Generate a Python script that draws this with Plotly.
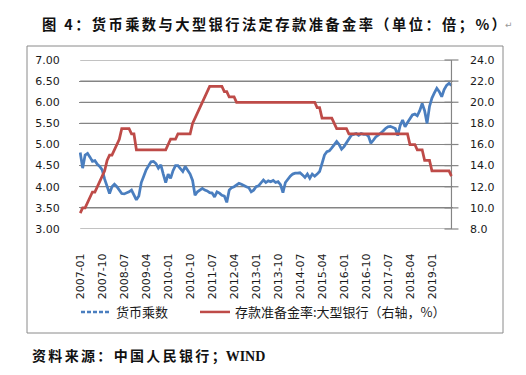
import pandas as pd
import plotly.graph_objects as go

# ---- data ----
months = [p.strftime("%Y-%m") for p in pd.period_range("2007-01", "2019-09", freq="M")]

money_multiplier = [
    4.81, 4.44, 4.75, 4.79, 4.70, 4.60, 4.62, 4.53, 4.48, 4.40, 4.18, 3.98,   # 2007
    3.84, 4.00, 4.06, 4.00, 3.92, 3.84, 3.83, 3.85, 3.88, 3.92, 3.80, 3.69,   # 2008
    3.78, 4.10, 4.25, 4.40, 4.50, 4.59, 4.60, 4.55, 4.44, 4.52, 4.30, 4.10,   # 2009
    4.30, 4.20, 4.38, 4.50, 4.50, 4.42, 4.36, 4.48, 4.40, 4.30, 4.15, 3.80,   # 2010
    3.88, 3.92, 3.96, 3.92, 3.90, 3.86, 3.85, 3.76, 3.88, 3.85, 3.80, 3.78,   # 2011
    3.63, 3.92, 3.98, 4.00, 4.05, 4.08, 4.06, 4.02, 4.00, 3.98, 3.88, 3.92,   # 2012
    4.00, 4.02, 4.10, 4.16, 4.10, 4.14, 4.12, 4.15, 4.10, 4.12, 4.05, 3.86,   # 2013
    4.10, 4.18, 4.25, 4.30, 4.32, 4.32, 4.33, 4.28, 4.22, 4.30, 4.20, 4.30,   # 2014
    4.25, 4.30, 4.36, 4.55, 4.75, 4.83, 4.85, 4.92, 4.99, 5.07, 5.00, 4.89,   # 2015
    4.95, 5.05, 5.15, 5.22, 5.24, 5.26, 5.22, 5.26, 5.24, 5.24, 5.20, 5.03,   # 2016
    5.10, 5.18, 5.22, 5.26, 5.32, 5.38, 5.42, 5.43, 5.40, 5.38, 5.21, 5.45,   # 2017
    5.58, 5.42, 5.52, 5.60, 5.70, 5.72, 5.68, 5.80, 5.97, 5.80, 5.50, 5.90,   # 2018
    6.10, 6.22, 6.33, 6.25, 6.13, 6.30, 6.40, 6.45, 6.40,                     # 2019
]

reserve_ratio = [
    9.5, 10.0, 10.0, 10.5, 11.0, 11.5, 11.5, 12.0, 12.5, 13.0, 13.5, 14.5,     # 2007
    15.0, 15.0, 15.5, 16.0, 16.5, 17.5, 17.5, 17.5, 17.5, 17.0, 17.0, 15.5,    # 2008
    15.5, 15.5, 15.5, 15.5, 15.5, 15.5, 15.5, 15.5, 15.5, 15.5, 15.5, 15.5,    # 2009
    16.0, 16.5, 16.5, 16.5, 17.0, 17.0, 17.0, 17.0, 17.0, 17.0, 18.0, 18.5,    # 2010
    19.0, 19.5, 20.0, 20.5, 21.0, 21.5, 21.5, 21.5, 21.5, 21.5, 21.5, 21.0,    # 2011
    21.0, 20.5, 20.5, 20.5, 20.0, 20.0, 20.0, 20.0, 20.0, 20.0, 20.0, 20.0,    # 2012
    20.0, 20.0, 20.0, 20.0, 20.0, 20.0, 20.0, 20.0, 20.0, 20.0, 20.0, 20.0,    # 2013
    20.0, 20.0, 20.0, 20.0, 20.0, 20.0, 20.0, 20.0, 20.0, 20.0, 20.0, 20.0,    # 2014
    20.0, 19.5, 19.5, 18.5, 18.5, 18.5, 18.5, 18.5, 18.0, 17.5, 17.5, 17.5,    # 2015
    17.5, 17.5, 17.0, 17.0, 17.0, 17.0, 17.0, 17.0, 17.0, 17.0, 17.0, 17.0,    # 2016
    17.0, 17.0, 17.0, 17.0, 17.0, 17.0, 17.0, 17.0, 17.0, 17.0, 17.0, 17.0,    # 2017
    17.0, 17.0, 17.0, 16.0, 16.0, 16.0, 15.5, 15.5, 15.5, 14.5, 14.5, 14.5,    # 2018
    13.5, 13.5, 13.5, 13.5, 13.5, 13.5, 13.5, 13.5, 13.0,                      # 2019
]

tick_labels = months[::9]

left_ticks = [3.0, 3.5, 4.0, 4.5, 5.0, 5.5, 6.0, 6.5, 7.0]
right_ticks = [8, 10, 12, 14, 16, 18, 20, 22, 24]

name_mm = "货币乘数"
name_rr = "存款准备金率:大型银行（右轴，%）"
title_text = "图 4：货币乘数与大型银行法定存款准备金率（单位：倍；%）"
source_cn = "资料来源：中国人民银行；"
source_en = "WIND"

# ---- style ----
OFF = 8                      # page body margin
W, H = 526 - OFF, 375 - OFF  # figure size inside the window
BLUE = "#4A7EBF"
RED = "#BE4B48"
GRID = "#858585"
TXT = "#1a1a1a"
TICKFONT = dict(family="DejaVu Sans", size=11, color=TXT)
CJK = "Noto Sans CJK SC"
CLEAR = "rgba(0,0,0,0)"


def px(x):
    return (x - OFF) / W


def py(y):
    return (H - (y - OFF)) / H


def spaced(s):
    return "\u2006".join(list(s))


PLOT_L, PLOT_R, PLOT_T, PLOT_B = 79, 452.7, 60, 229

fig = go.Figure()

# ---- grid lines, right axis line and its tick marks (as plain traces) ----
for v in left_ticks:
    fig.add_trace(go.Scatter(
        x=[months[0], months[-1]], y=[v, v], mode="lines", yaxis="y",
        line=dict(color=GRID, width=1.2), showlegend=False, hoverinfo="skip",
    ))
fig.add_trace(go.Scatter(
    x=[months[-1], months[-1]], y=[right_ticks[0], right_ticks[-1]],
    mode="lines", yaxis="y2", line=dict(color=GRID, width=1.2),
    showlegend=False, hoverinfo="skip",
))
fig.add_trace(go.Scatter(
    x=[months[-1]] * len(right_ticks), y=right_ticks, mode="markers",
    yaxis="y2", cliponaxis=False,
    marker=dict(symbol="line-ew", size=10, color=GRID,
                line=dict(color=GRID, width=1.2)),
    showlegend=False, hoverinfo="skip",
))

# ---- data series ----
fig.add_trace(go.Scatter(
    x=months, y=money_multiplier, mode="lines", name=name_mm,
    line=dict(color=BLUE, width=2.75), showlegend=False, yaxis="y",
))
fig.add_trace(go.Scatter(
    x=months, y=reserve_ratio, mode="lines", name=name_rr,
    line=dict(color=RED, width=2.75), showlegend=False, yaxis="y2",
))
# legend entries
fig.add_trace(go.Scatter(
    x=[None], y=[None], mode="lines", name=name_mm,
    line=dict(color=BLUE, width=2.5, dash="4px,2px"), legend="legend",
))
fig.add_trace(go.Scatter(
    x=[None], y=[None], mode="lines", name=name_rr,
    line=dict(color=RED, width=2.5), legend="legend2", yaxis="y2",
))

fig.update_layout(
    width=W, height=H,
    margin=dict(l=0, r=0, t=0, b=0, autoexpand=False),
    paper_bgcolor="white", plot_bgcolor=CLEAR,
    xaxis=dict(
        domain=[px(PLOT_L), px(PLOT_R)],
        type="category",
        categoryorder="array", categoryarray=months,
        range=[-0.5, len(months) - 0.5],
        tickmode="array", tickvals=tick_labels, ticktext=tick_labels,
        tickangle=-90, tickfont=TICKFONT,
        showgrid=False, showline=False,
        ticks="outside", ticklen=19, tickcolor=CLEAR,
        zeroline=False, automargin=False,
    ),
    yaxis=dict(
        domain=[py(PLOT_B), py(PLOT_T)],
        range=[3, 7], tickmode="array", tickvals=left_ticks,
        ticktext=[f"{v:.2f}" for v in left_ticks], tickfont=TICKFONT,
        showgrid=True, gridcolor=GRID, gridwidth=1,
        showline=False, zeroline=False,
        ticks="outside", ticklen=16, tickcolor=CLEAR,
        automargin=False,
    ),
    yaxis2=dict(
        overlaying="y", side="right", anchor="x",
        range=[8, 24], tickmode="array", tickvals=right_ticks,
        ticktext=[f"{v:.1f}" for v in right_ticks], tickfont=TICKFONT,
        showgrid=False, showline=False,
        ticks="outside", ticklen=14, tickcolor=CLEAR,
        zeroline=False, automargin=False,
    ),
    legend=dict(
        x=px(76), y=py(312), xanchor="left", yanchor="middle",
        orientation="h", bgcolor=CLEAR, borderwidth=0,
        font=dict(family=CJK, size=13, color=TXT),
    ),
    legend2=dict(
        x=px(195), y=py(312), xanchor="left", yanchor="middle",
        orientation="h", bgcolor=CLEAR, borderwidth=0,
        font=dict(family=CJK, size=13, color=TXT),
    ),
    shapes=[
        dict(type="rect", xref="paper", yref="paper",
             x0=px(27), x1=px(503), y0=py(333), y1=py(46),
             line=dict(color="#8a8a8a", width=1), fillcolor=CLEAR),
    ],
    annotations=[
        dict(text="<b>" + spaced(title_text) + "</b>", xref="paper", yref="paper",
             x=px(40), y=py(24), xanchor="left", yanchor="middle",
             showarrow=False, font=dict(family=CJK, size=14.3, color="#111")),
        dict(text="↵", xref="paper", yref="paper",
             x=px(503), y=py(25), xanchor="left", yanchor="middle",
             showarrow=False, font=dict(family="DejaVu Sans", size=9, color="#999")),
        dict(text="<b>" + spaced(source_cn)
             + "<span style='font-family:Liberation Serif'>" + source_en + "</span></b>",
             xref="paper", yref="paper",
             x=px(30), y=py(355), xanchor="left", yanchor="middle",
             showarrow=False, font=dict(family=CJK, size=14, color="#111")),
    ],
)

fig.write_html("out.html")
